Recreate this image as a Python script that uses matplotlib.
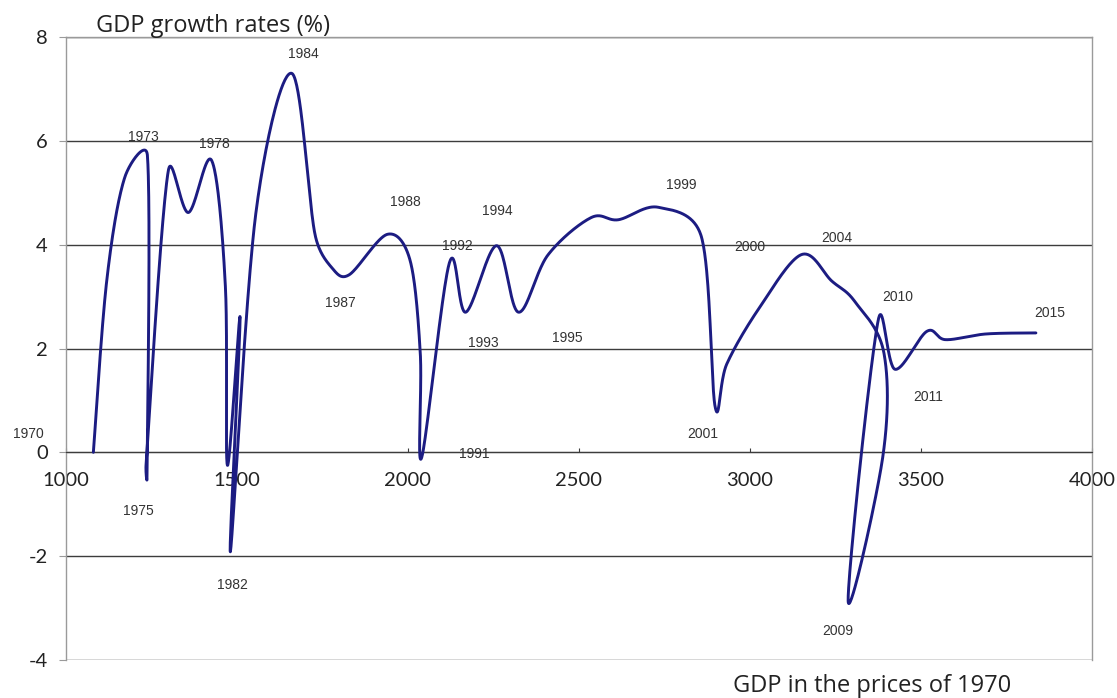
import numpy as np
import matplotlib
matplotlib.use("Agg")
import matplotlib.pyplot as plt

plt.rcParams["font.family"] = ["Lato", "DejaVu Sans"]

# ---------------- data ----------------
years = list(range(1970, 2016))
gdp = [1080, 1119, 1172, 1238, 1237, 1234, 1299, 1358, 1426, 1466,
       1472, 1509, 1481, 1555, 1660, 1728, 1778, 1828, 1940, 2006,
       2036, 2040, 2121, 2169, 2259, 2323, 2409, 2535, 2615, 2732,
       2858, 2898, 2932, 3029, 3151, 3239, 3307, 3392, 3388, 3287,
       3375, 3424, 3517, 3572, 3690, 3836]
growth = [0.0, 3.3, 5.3, 5.72, -0.5, -0.25, 5.42, 4.62, 5.62, 3.2,
          -0.25, 2.6, -1.9, 4.6, 7.3, 4.2, 3.55, 3.42, 4.2, 3.7,
          1.9, -0.1, 3.65, 2.7, 3.98, 2.7, 3.8, 4.52, 4.48, 4.72,
          4.15, 0.88, 1.7, 2.8, 3.81, 3.3, 2.9, 1.9, -0.1, -2.86,
          2.55, 1.6, 2.33, 2.17, 2.28, 2.3]

x_ticks = [1000, 1500, 2000, 2500, 3000, 3500, 4000]
y_ticks = [-4, -2, 0, 2, 4, 6, 8]
labelled_years = [1970, 1973, 1975, 1978, 1982, 1984, 1987, 1988, 1991, 1992,
                  1993, 1994, 1995, 1999, 2000, 2001, 2004, 2009, 2010, 2011, 2015]

# label placement (data coordinates) - layout only
label_pos = {
    1970: (890, 0.35), 1973: (1225, 6.08), 1975: (1212, -1.13), 1978: (1433, 5.94),
    1982: (1488, -2.56), 1984: (1693, 7.67), 1987: (1801, 2.87), 1988: (1991, 4.83),
    1991: (2193, -0.04), 1992: (2143, 3.98), 1993: (2219, 2.10), 1994: (2260, 4.65),
    1995: (2465, 2.21), 1999: (2798, 5.15), 2000: (3000, 3.96), 2001: (2863, 0.35),
    2004: (3254, 4.13), 2009: (3257, -3.44), 2010: (3433, 3.0), 2011: (3520, 1.06),
    2015: (3877, 2.69),
}

# ---------------- figure ----------------
W, H = 1117, 698
fig = plt.figure(figsize=(W / 100, H / 100), dpi=100)
L, R, T, B = 66, 1092, 37, 660
ax = fig.add_axes([L / W, 1 - B / H, (R - L) / W, (B - T) / H])
ax.set_xlim(1000, 4000)
ax.set_ylim(-4, 8)

# pixel scales for smoothing in screen space
sx = (R - L) / 3000.0
sy = (B - T) / 12.0


def smooth(xs, ys, n=40, k=0.5):
    """Catmull-Rom style Bezier smoothing (like a spreadsheet 'smoothed line')."""
    P = np.column_stack([np.asarray(xs, float) * sx, np.asarray(ys, float) * sy])
    N = len(P)
    D = np.zeros_like(P)
    for i in range(N):
        a = P[max(i - 1, 0)]
        b = P[min(i + 1, N - 1)]
        D[i] = (b - a) / 6.0
    t = np.linspace(0, 1, n)[:, None]
    segs = []
    for i in range(N - 1):
        p0, p3 = P[i], P[i + 1]
        Ls = np.hypot(*(p3 - p0))
        d0, d1 = D[i].copy(), D[i + 1].copy()
        m0, m1 = np.hypot(*d0), np.hypot(*d1)
        if m0 > k * Ls and m0 > 0:
            d0 *= k * Ls / m0
        if m1 > k * Ls and m1 > 0:
            d1 *= k * Ls / m1
        c1 = p0 + d0
        c2 = p3 - d1
        seg = (1 - t) ** 3 * p0 + 3 * (1 - t) ** 2 * t * c1 + 3 * (1 - t) * t ** 2 * c2 + t ** 3 * p3
        segs.append(seg if i == 0 else seg[1:])
    out = np.vstack(segs)
    return out[:, 0] / sx, out[:, 1] / sy


cx, cy = smooth(gdp, growth)
ax.plot(cx, cy, color="#1c1c82", lw=2.1, solid_capstyle="round", zorder=3)

# grid and frame
ax.set_yticks(y_ticks)
ax.set_yticklabels([str(v) for v in y_ticks])
ax.set_xticks(x_ticks)
ax.set_xticklabels([str(v) for v in x_ticks])
ax.yaxis.grid(True, color="#3c3c3c", lw=1.0)
ax.xaxis.grid(False)
ax.set_axisbelow(True)
ax.spines["bottom"].set_position(("data", 0))
ax.spines["bottom"].set_color("#3c3c3c")
for s in ["left", "top", "right"]:
    ax.spines[s].set_color("#9a9a9a")
    ax.spines[s].set_linewidth(1.0)
ax.tick_params(axis="y", length=5, pad=8, color="#9a9a9a", labelsize=14.5, labelcolor="#222222")
ax.tick_params(axis="x", direction="in", length=3, pad=14, color="#3c3c3c", labelsize=14.5,
               labelcolor="#222222")

# year labels
for yr in labelled_years:
    px, py = label_pos[yr]
    ax.text(px, py, str(yr), ha="center", va="center", fontsize=10, color="#333333",
            family=["Liberation Sans", "DejaVu Sans"], clip_on=False, zorder=4)

fig.text(96 / W, 1 - 26 / H, "GDP growth rates (%)", ha="left", va="center",
         fontsize=17, color="#222222", family=["Open Sans", "DejaVu Sans"])
fig.text(872 / W, 1 - 686 / H, "GDP in the prices of 1970", ha="center", va="center",
         fontsize=17, color="#222222", family=["Open Sans", "DejaVu Sans"])

fig.savefig("out.png", dpi=100, facecolor="white")
